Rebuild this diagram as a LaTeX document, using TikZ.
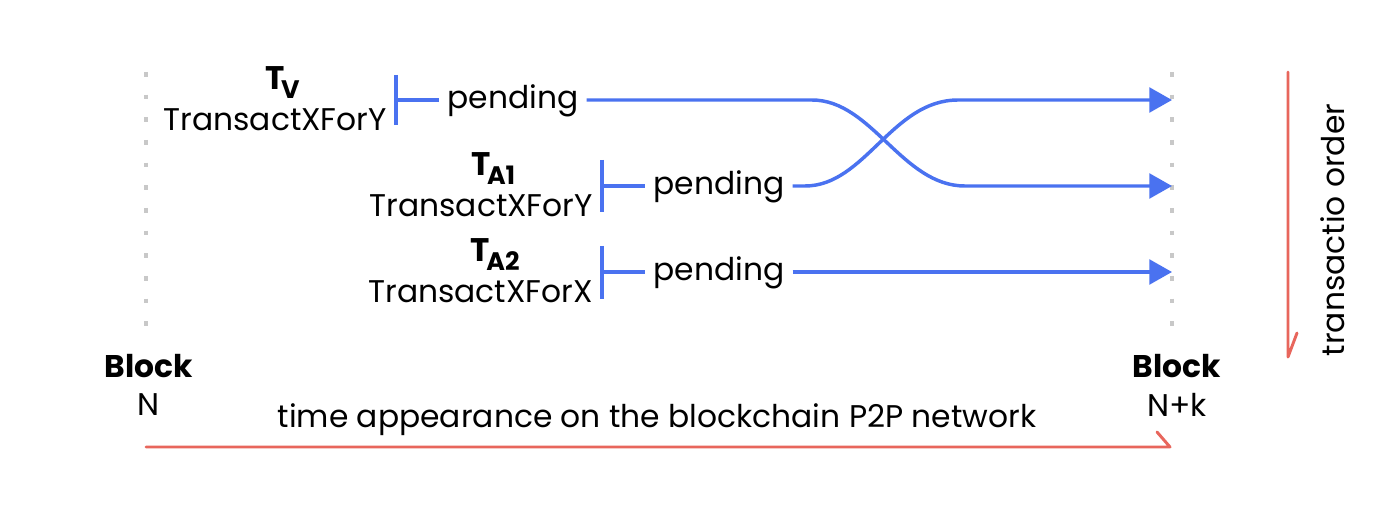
\documentclass[tikz,border=0pt]{standalone}
\usepackage{fontspec}
\setmainfont{Poppins}
\usetikzlibrary{arrows.meta}
\definecolor{flowblue}{HTML}{4A72F0}
\definecolor{axisred}{HTML}{E8665C}
\definecolor{dotgray}{HTML}{C8C8C8}
\begin{document}
\begin{tikzpicture}[x=0.75pt,y=-0.75pt,
  lbl/.style={font=\fontsize{23.5}{31}\selectfont, inner sep=0pt},
  tname/.style={lbl, align=center, anchor=east},
  pend/.style={lbl, anchor=base, inner xsep=6pt},
  bar/.style={draw=flowblue, line width=2.4pt},
  flow/.style={draw=flowblue, line width=2.6pt},
  flowarr/.style={flow, -{Triangle[length=17pt,width=18.5pt]}},
  axis/.style={draw=axisred, line width=2.2pt, line cap=round, line join=round},
  blockline/.style={draw=dotgray, line width=2.4pt, dash pattern=on 3.5pt off 13.5pt}]
\useasboundingbox[fill=white] (0,0) rectangle (1378,520);
\newcommand{\tsub}[1]{{\fontsize{24.5}{31}\selectfont\bfseries T}\rlap{\kern-0.12em\raisebox{-0.5ex}{\fontsize{19}{19}\selectfont\bfseries #1}}}

% block boundaries
\coordinate (l0) at (146,72);
\coordinate (l1) at (146,330);
\coordinate (r0) at (1172,72);
\coordinate (r1) at (1172,330);
\draw[blockline] (l0) -- (l1);
\draw[blockline] (r0) -- (r1);

% transaction labels
\node[tname] (tv) at (387,99) {\tsub{V}\\TransactXForY};
\node[tname] (ta1) at (593,185) {\tsub{A1}\\TransactXForY};
\node[tname] (ta2) at (593,271) {\tsub{A2}\\TransactXForX};

% bars
\coordinate (bv0) at (396,75);  \coordinate (bv1) at (396,125);  \coordinate (bv) at (396,100);
\coordinate (ba10) at (602,160); \coordinate (ba11) at (602,212); \coordinate (ba1) at (602,186);
\coordinate (ba20) at (602,246); \coordinate (ba21) at (602,299); \coordinate (ba2) at (602,272);
\draw[bar] (bv0) -- (bv1);
\draw[bar] (ba10) -- (ba11);
\draw[bar] (ba20) -- (ba21);

% pending nodes
\node[pend] (pv) at (513,109) {pending};
\node[pend] (pa1) at (719,195) {pending};
\node[pend] (pa2) at (719,281) {pending};

\draw[flow] (bv) -- (pv.west |- bv);
\draw[flow] (ba1) -- (pa1.west |- ba1);
\draw[flow] (ba2) -- (pa2.west |- ba2);

% ends
\coordinate (ev) at (1172,100);
\coordinate (ea1) at (1172,186);
\coordinate (ea2) at (1172,272);

\draw[flowarr] (pv.east |- bv) -- (812,100) .. controls (872,100) and (902,186) .. (965,186) -- (ea1);
\draw[flowarr] (pa1.east |- ba1) -- (805,186) .. controls (865,186) and (892,100) .. (958,100) -- (ev);
\draw[flowarr] (pa2.east |- ba2) -- (ea2);

% block labels
\node[lbl, font=\fontsize{23.5}{31}\selectfont\bfseries] (bn) at (149,366) {Block};
\node[lbl] (bnn) at (149,405) {N};
\node[lbl, font=\fontsize{23.5}{31}\selectfont\bfseries] (bk) at (1177,366) {Block};
\node[lbl] (bkk) at (1177,405) {N+k};

% time axis
\node[lbl] (time) at (657,420) {time appearance on the blockchain P2P network};
\coordinate (t0) at (146,447);
\coordinate (t1) at (1170,447);
\coordinate (t2) at (1157,432);
\draw[axis] (t0) -- (t1) -- (t2);

% order axis
\coordinate (o0) at (1288,72);
\coordinate (o1) at (1288,357);
\coordinate (o2) at (1297,333);
\draw[axis] (o0) -- (o1) -- (o2);
\node[lbl, rotate=90] (ord) at (1333,230) {transactio order};
\end{tikzpicture}
\end{document}
